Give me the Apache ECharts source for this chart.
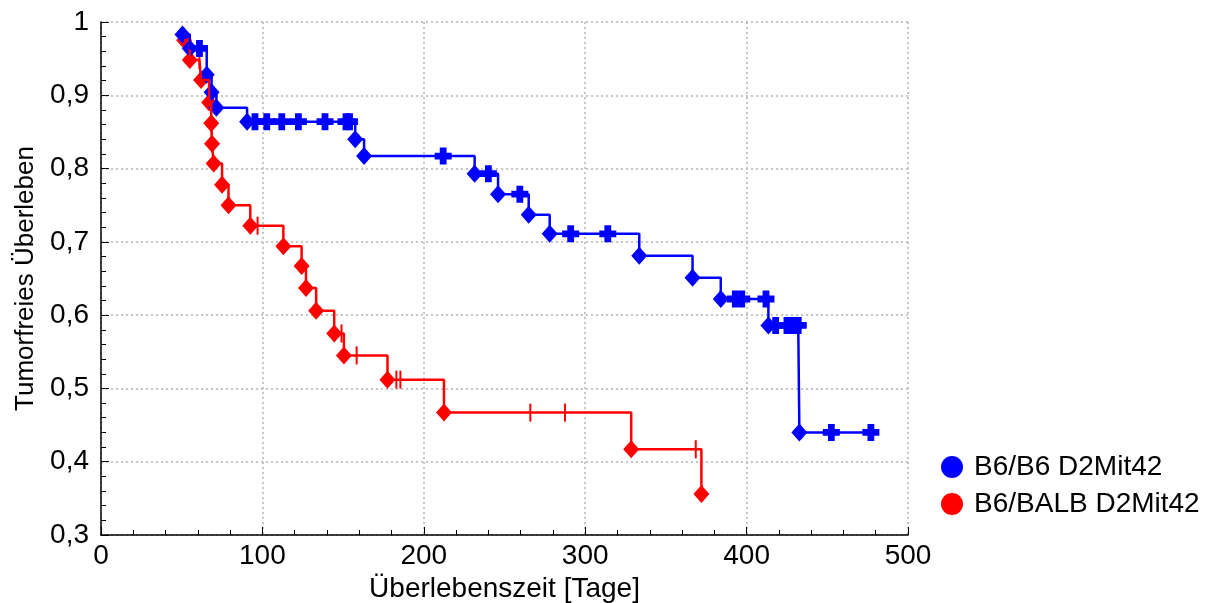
<!DOCTYPE html>
<html>
<head>
<meta charset="utf-8">
<script src="https://cdn.jsdelivr.net/npm/echarts@6/dist/echarts.min.js"></script>
<style>
  html, body { margin: 0; padding: 0; background: #fff; }
  #chart { width: 1216px; height: 603px; }
</style>
</head>
<body>
<div id="chart"></div>
<script>
// Kaplan-Meier Daten (Tage, tumorfreies Überleben)
const blueName = 'B6/B6 D2Mit42';
const redName = 'B6/BALB D2Mit42';

// B6/B6: Ereignisse
const blueEventT = [50.5, 55, 65.5, 68.5, 71.5, 90.5, 157.5, 163, 231.5, 246, 265, 278, 333.5, 366.5, 384, 413.5, 432.7];
const blueEventS = [0.983, 0.964, 0.928, 0.904, 0.883, 0.864, 0.840, 0.817, 0.793, 0.765, 0.737, 0.711, 0.681, 0.651, 0.622, 0.586, 0.440];
// B6/B6: zensiert
const blueCensT = [61, 95.4, 102.7, 112, 122.3, 138.8, 151.8, 154, 212, 240, 259.5, 291, 314, 393, 397, 412, 418, 425, 429, 432, 452.5, 477];
const blueCensS = [0.964, 0.864, 0.864, 0.864, 0.864, 0.864, 0.864, 0.864, 0.817, 0.793, 0.765, 0.711, 0.711, 0.622, 0.622, 0.622, 0.586, 0.586, 0.586, 0.586, 0.440, 0.440];

// B6/BALB: Ereignisse
const redEventT = [51.5, 55, 62, 67, 68.3, 68.8, 69.8, 75, 79, 92.5, 113, 124.3, 127, 133.3, 144.5, 150.5, 177.5, 212.5, 328.5, 372];
const redEventS = [0.975, 0.948, 0.921, 0.890, 0.862, 0.834, 0.807, 0.778, 0.750, 0.722, 0.694, 0.667, 0.637, 0.606, 0.575, 0.545, 0.512, 0.467, 0.417, 0.356];
// B6/BALB: zensiert
const redCensT = [61, 97, 149, 158.4, 183, 185.5, 266, 287.5, 368.5];
const redCensS = [0.948, 0.722, 0.575, 0.545, 0.512, 0.512, 0.467, 0.467, 0.417];

const xTicks = [0, 100, 200, 300, 400, 500];
const yTicks = [0.3, 0.4, 0.5, 0.6, 0.7, 0.8, 0.9, 1];

function pairs(ts, ss) {
    return ts.map(function(t, i) { return [t, ss[i]]; });
}
function stepData(et, es, ct, cs) {
    return pairs(et, es).concat(pairs(ct, cs)).sort(function(a, b) { return a[0] - b[0]; });
}

const BLUE = '#0000ff';
const RED = '#ff0000';
const FONT = '"Liberation Sans", Arial, sans-serif';
const plusPath = 'path://M3,0H7V3H10V7H7V10H3V7H0V3H3Z';
const tickPath = 'path://M0,0H1V10H0Z';

const chart = echarts.init(document.getElementById('chart'));

const option = {
    animation: false,
    backgroundColor: '#fff',
    textStyle: { fontFamily: FONT },
    grid: { left: 101, right: 308, top: 22, bottom: 68, containLabel: false, outerBoundsMode: 'none' },
    legend: {
        orient: 'vertical',
        left: 936,
        top: 448,
        icon: 'circle',
        itemWidth: 22,
        itemHeight: 22,
        itemGap: 9,
        data: [blueName, redName],
        textStyle: { fontSize: 28, color: '#000', fontFamily: FONT, padding: [0, 0, 0, 6] }
    },
    xAxis: {
        type: 'value',
        min: xTicks[0],
        max: xTicks[xTicks.length - 1],
        interval: 100,
        name: 'Überlebenszeit [Tage]',
        nameLocation: 'middle',
        nameGap: 34,
        nameTextStyle: { fontSize: 28, color: '#000' },
        axisLine: { lineStyle: { color: '#000', width: 1.5 } },
        axisTick: { inside: true, length: 8, lineStyle: { color: '#000' } },
        minorTick: { show: true, splitNumber: 5, length: 5, lineStyle: { color: '#000' } },
        axisLabel: { fontSize: 28, color: '#000', margin: 7 },
        splitLine: { show: true, lineStyle: { color: '#b4b4b4', type: [2, 3], width: 1.5 } }
    },
    yAxis: {
        type: 'value',
        min: yTicks[0],
        max: yTicks[yTicks.length - 1],
        interval: 0.1,
        name: 'Tumorfreies Überleben',
        nameLocation: 'middle',
        nameGap: 58,
        nameTextStyle: { fontSize: 26, color: '#000' },
        axisLine: { show: true, lineStyle: { color: '#000', width: 1.5 } },
        axisTick: { show: true, inside: true, length: 8, lineStyle: { color: '#000' } },
        minorTick: { show: true, splitNumber: 5, length: 5, lineStyle: { color: '#000' } },
        axisLabel: {
            fontSize: 28, color: '#000', margin: 12,
            formatter: function(v) { return (Math.round(v * 10) / 10).toString().replace('.', ','); }
        },
        splitLine: { show: true, lineStyle: { color: '#b4b4b4', type: [2, 3], width: 1.5 } }
    },
    series: [
        {
            name: redName,
            type: 'line',
            step: 'end',
            showSymbol: false,
            itemStyle: { color: RED },
            lineStyle: { color: RED, width: 2.5 },
            data: stepData(redEventT, redEventS, redCensT, redCensS)
        },
        {
            name: redName,
            type: 'scatter',
            symbol: 'diamond',
            symbolSize: [16, 18],
            itemStyle: { color: RED, opacity: 1 },
            data: pairs(redEventT, redEventS)
        },
        {
            name: redName,
            type: 'scatter',
            symbol: tickPath,
            symbolSize: [2, 18],
            itemStyle: { color: RED, opacity: 1 },
            data: pairs(redCensT, redCensS)
        },
        {
            name: blueName,
            type: 'line',
            step: 'end',
            showSymbol: false,
            itemStyle: { color: BLUE },
            lineStyle: { color: BLUE, width: 2.5 },
            data: stepData(blueEventT, blueEventS, blueCensT, blueCensS)
        },
        {
            name: blueName,
            type: 'scatter',
            symbol: 'diamond',
            symbolSize: [16, 18],
            itemStyle: { color: BLUE, opacity: 1 },
            data: pairs(blueEventT, blueEventS)
        },
        {
            name: blueName,
            type: 'scatter',
            symbol: plusPath,
            symbolSize: 17,
            itemStyle: { color: BLUE, opacity: 1 },
            data: pairs(blueCensT, blueCensS)
        }
    ]
};

chart.setOption(option);
window.addEventListener('resize', function() { chart.resize(); });
</script>
</body>
</html>
